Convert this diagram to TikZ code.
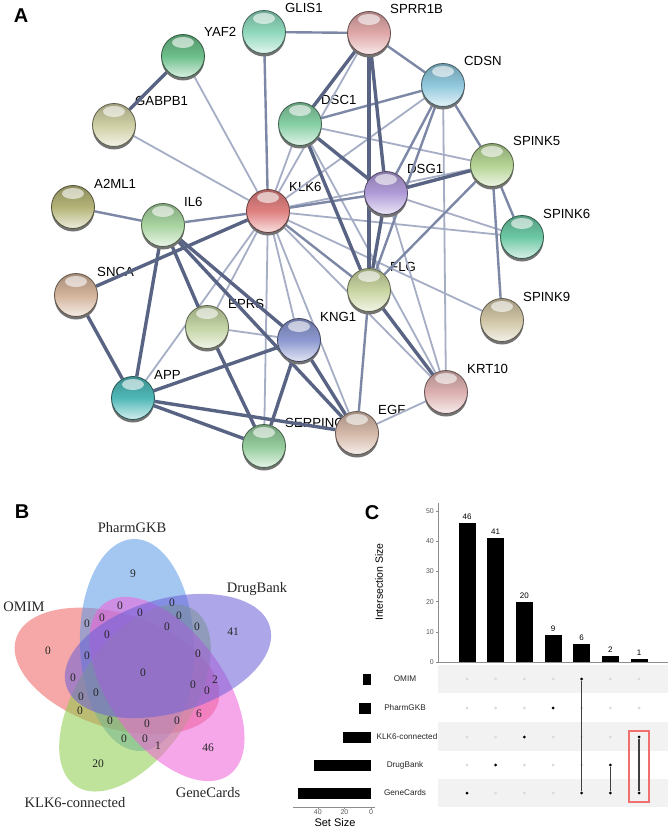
\documentclass[tikz,border=0pt]{standalone}
\usepackage{fontspec}
\setmainfont{Liberation Sans}
\newfontfamily\vennfont{Liberation Serif}
\usetikzlibrary{shadows,backgrounds}

% sphere colours
\definecolor{cYAF}{HTML}{6CBF8A}
\definecolor{cGLIS}{HTML}{8ED8BC}
\definecolor{cSPRR}{HTML}{E0A8A8}
\definecolor{cCDSN}{HTML}{90C8DC}
\definecolor{cGABP}{HTML}{CFCFA4}
\definecolor{cDSC}{HTML}{86CFA4}
\definecolor{cSPKfive}{HTML}{B4D494}
\definecolor{cAML}{HTML}{B4B478}
\definecolor{cIL}{HTML}{A8D4A0}
\definecolor{cKLK}{HTML}{E08080}
\definecolor{cDSG}{HTML}{B09CD8}
\definecolor{cSPKsix}{HTML}{6CC8A4}
\definecolor{cSNCA}{HTML}{D4B49C}
\definecolor{cEPRS}{HTML}{C4D4A4}
\definecolor{cKNG}{HTML}{8C98D0}
\definecolor{cFLG}{HTML}{C8D4A0}
\definecolor{cSPKnine}{HTML}{CFC4A4}
\definecolor{cAPP}{HTML}{50B8B8}
\definecolor{cSERP}{HTML}{94CC9C}
\definecolor{cEGF}{HTML}{D4B8A8}
\definecolor{cKRT}{HTML}{DCB0B0}
% edges
\definecolor{edgeDark}{HTML}{596484}
\definecolor{edgeMid}{HTML}{7D87A6}
\definecolor{edgeLight}{HTML}{A6AEC6}
% venn
\definecolor{vPharm}{HTML}{5A9AE8}
\definecolor{vDrug}{HTML}{6A60D8}
\definecolor{vOmim}{HTML}{F06060}
\definecolor{vKlk}{HTML}{8CCC48}
\definecolor{vGene}{HTML}{F060D8}
% upset
\definecolor{bandGray}{HTML}{F2F2F2}
\definecolor{boxRed}{HTML}{F07070}

\tikzset{
  gene/.style={circle, minimum size=43pt, inner sep=0pt, line width=0.8pt,
    draw=#1!45!black, top color=#1!78!black, bottom color=#1!25!white, middle color=#1,
    general shadow={fill=black!55, shadow yshift=-3pt},
    path picture={\fill[white, fill opacity=0.6]
      ([yshift=-8pt]path picture bounding box.north) ellipse [x radius=11pt, y radius=5.5pt];}},
  genelbl/.style={anchor=base west, inner sep=0pt, xshift=21pt, yshift=19pt,
    font=\fontsize{13.2}{15}\selectfont},
  strong/.style={draw=edgeDark, line width=3.4pt},
  medium/.style={draw=edgeMid, line width=2.4pt},
  weak/.style={draw=edgeLight, line width=1.8pt},
  panel/.style={font=\fontsize{20}{22}\selectfont\bfseries, inner sep=0pt},
  vset/.style={font=\vennfont\fontsize{14.5}{16}\selectfont, text=black!85, inner sep=0pt},
  vnum/.style={font=\vennfont\fontsize{11.5}{13}\selectfont, text=black!85, inner sep=0pt},
  tick/.style={font=\fontsize{7}{8}\selectfont, text=black!65, inner sep=0pt},
  barval/.style={font=\fontsize{8}{9}\selectfont, inner sep=0pt},
  rowlbl/.style={font=\fontsize{8.2}{9}\selectfont, text=black!85, inner sep=0pt},
  axtitle/.style={font=\fontsize{10.5}{12}\selectfont, inner sep=0pt},
  axis/.style={draw=black!45, line width=0.6pt},
  dot/.style={circle, fill=#1, inner sep=0pt, minimum size=3pt},
  mline/.style={draw=black!75, line width=1.3pt}
}

\begin{document}
\begin{tikzpicture}[x=1pt,y=-1pt]
  \useasboundingbox (0,0) rectangle (671,829);

  % ---- A: network
  \node[panel] (pA) at (21,16) {A};

  \node[gene=cYAF] (yaf2) at (183,56) {};
  \node[gene=cGLIS] (glis1) at (264,32) {};
  \node[gene=cSPRR] (sprr1b) at (369,33) {};
  \node[gene=cCDSN] (cdsn) at (443,85) {};
  \node[gene=cGABP] (gabpb1) at (114,125) {};
  \node[gene=cDSC] (dsc1) at (300,124) {};
  \node[gene=cSPKfive] (spink5) at (492,165) {};
  \node[gene=cAML] (a2ml1) at (73,207) {};
  \node[gene=cIL] (il6) at (163,225) {};
  \node[gene=cKLK] (klk6) at (268,211) {};
  \node[gene=cDSG] (dsg1) at (386,193) {};
  \node[gene=cSPKsix] (spink6) at (522,237) {};
  \node[gene=cSNCA] (snca) at (76,295) {};
  \node[gene=cEPRS] (eprs) at (207,327) {};
  \node[gene=cKNG] (kng1) at (299,340) {};
  \node[gene=cFLG] (flg) at (369,290) {};
  \node[gene=cSPKnine] (spink9) at (502,320) {};
  \node[gene=cAPP] (app) at (133,398) {};
  \node[gene=cSERP] (serpinc1) at (264,446) {};
  \node[gene=cEGF] (egf) at (357,433) {};
  \node[gene=cKRT] (krt10) at (446,392) {};

  \begin{pgfonlayer}{background}
    \fill[white] (0,0) rectangle (671,829);

    \node[genelbl] (lyaf2) at (yaf2) {YAF2};
    \node[genelbl] (lglis1) at (glis1) {GLIS1};
    \node[genelbl] (lsprr1b) at (sprr1b) {SPRR1B};
    \node[genelbl] (lcdsn) at (cdsn) {CDSN};
    \node[genelbl] (lgabpb1) at (gabpb1) {GABPB1};
    \node[genelbl] (ldsc1) at (dsc1) {DSC1};
    \node[genelbl] (lspink5) at (spink5) {SPINK5};
    \node[genelbl] (la2ml1) at (a2ml1) {A2ML1};
    \node[genelbl] (lil6) at (il6) {IL6};
    \node[genelbl] (lklk6) at (klk6) {KLK6};
    \node[genelbl] (ldsg1) at (dsg1) {DSG1};
    \node[genelbl] (lspink6) at (spink6) {SPINK6};
    \node[genelbl] (lsnca) at (snca) {SNCA};
    \node[genelbl] (leprs) at (eprs) {EPRS};
    \node[genelbl] (lkng1) at (kng1) {KNG1};
    \node[genelbl] (lflg) at (flg) {FLG};
    \node[genelbl] (lspink9) at (spink9) {SPINK9};
    \node[genelbl] (lapp) at (app) {APP};
    \node[genelbl] (lserpinc1) at (serpinc1) {SERPINC1};
    \node[genelbl] (legf) at (egf) {EGF};
    \node[genelbl] (lkrt10) at (krt10) {KRT10};

    \path[weak]
    (klk6) edge (yaf2)
    (klk6) edge (gabpb1)
    (klk6) edge (sprr1b)
    (klk6) edge (cdsn)
    (klk6) edge (dsc1)
    (klk6) edge (spink5)
    (klk6) edge (spink6)
    (klk6) edge (spink9)
    (klk6) edge (krt10)
    (klk6) edge (egf)
    (klk6) edge (serpinc1)
    (klk6) edge (kng1)
    (klk6) edge (eprs)
    (klk6) edge (app)
    (cdsn) edge (krt10)
    (dsc1) edge (spink5)
    (dsc1) edge (krt10)
    (dsg1) edge (spink6)
    (dsg1) edge (krt10)
    (eprs) edge (kng1)
    (krt10) edge (egf)
    ;
    \path[medium]
    (glis1) edge (klk6)
    (glis1) edge (sprr1b)
    (a2ml1) edge (il6)
    (il6) edge (klk6)
    (klk6) edge (dsg1)
    (klk6) edge (flg)
    (sprr1b) edge (cdsn)
    (cdsn) edge (spink5)
    (cdsn) edge (dsc1)
    (cdsn) edge (dsg1)
    (cdsn) edge (flg)
    (spink5) edge (spink6)
    (spink5) edge (spink9)
    (spink5) edge (flg)
    (flg) edge (egf)
    ;
    \path[strong]
    (yaf2) edge (gabpb1)
    (snca) edge (klk6)
    (snca) edge (app)
    (il6) edge (app)
    (il6) edge (eprs)
    (il6) edge (kng1)
    (il6) edge (egf)
    (app) edge (kng1)
    (app) edge (serpinc1)
    (app) edge (egf)
    (eprs) edge (serpinc1)
    (kng1) edge (serpinc1)
    (kng1) edge (egf)
    (dsc1) edge (dsg1)
    (dsc1) edge (flg)
    (dsc1) edge (sprr1b)
    (sprr1b) edge (dsg1)
    (sprr1b) edge (flg)
    (dsg1) edge (flg)
    (dsg1) edge (spink5)
    (flg) edge (krt10)
    ;
  \end{pgfonlayer}

  % ---- B: venn
  \node[panel] (pB) at (22,512) {B};
  \begin{scope}[fill opacity=0.55]
    \fill[vOmim, rotate around={-18:(117,671)}] (117,671) ellipse [x radius=106, y radius=57];
    \fill[vPharm, rotate around={92:(137,645)}] (137,645) ellipse [x radius=106, y radius=57];
    \fill[vKlk, rotate around={56:(135,698)}] (135,698) ellipse [x radius=106, y radius=57];
    \fill[vGene, rotate around={-54:(167,689)}] (167,689) ellipse [x radius=106, y radius=57];
    \fill[vDrug, rotate around={16:(168,656)}] (168,656) ellipse [x radius=106, y radius=57];
  \end{scope}

  \node[vset] (sPharm) at (132,528) {PharmGKB};
  \node[vset] (sDrug) at (257,589) {DrugBank};
  \node[vset] (sOmim) at (24,607) {OMIM};
  \node[vset] (sKlk) at (75,803) {KLK6-connected};
  \node[vset] (sGene) at (208,793) {GeneCards};

  \node[vnum] (nPharm) at (133,574) {9};
  \node[vnum] (nDrug) at (233,632) {41};
  \node[vnum] (nKlk) at (98,764) {20};
  \node[vnum] (nGene) at (208,748) {46};
  \node[vnum] (nDG) at (215,680) {2};
  \node[vnum] (nOG) at (199,714) {6};
  \node[vnum] (nKG) at (158,746) {1};
  \foreach \x/\y [count=\i] in {120/606, 172/603, 102/618, 87/624, 140/613, 179/616,
      197/627, 167/627, 107/635, 87/656, 198/654, 73/678, 81/697, 96/693, 193/685,
      207/691, 80/711, 110/721, 147/724, 177/721, 124/739, 145/739, 48/651, 143/673}
    \node[vnum] (zero\i) at (\x,\y) {0};

  % ---- C: upset
  \node[panel] (pC) at (372,513) {C};
  \node[axtitle, rotate=90] (tInt) at (379,582) {Intersection Size};

  \draw[axis] (438,503) -- (438,662) -- (668,662);
  \foreach \t in {0,10,...,50} {
    \draw[axis] (438,{662-3.02*\t}) -- ++(-2.5,0);
    \node[tick, anchor=east] (yt\t) at (434,{662-3.02*\t}) {\t};
  }
  \foreach \v [count=\i] in {46,41,20,9,6,2,1} {
    \fill ({458.5+28.67*(\i-1)},662) rectangle ++(17,{-3.02*\v});
    \node[barval, anchor=south] (bv\i) at ({467+28.67*(\i-1)},{659-3.02*\v}) {\v};
  }

  % matrix
  \fill[bandGray] (438,665) rectangle (668,693);
  \fill[bandGray] (438,722) rectangle (668,751);
  \fill[bandGray] (438,779) rectangle (668,807);
  \foreach \r/\y in {1/679,2/708,3/737,4/765,5/793}
    \foreach \c in {1,...,7}
      \node[dot=black!15] (m\c\r) at ({467+28.67*(\c-1)},\y) {};
  \foreach \c/\r/\y in {1/5/793,2/4/765,3/3/737,4/2/708,5/1/679,5/5/793,6/4/765,6/5/793,7/3/737,7/5/793}
    \node[dot=black] (a\c\r) at ({467+28.67*(\c-1)},\y) {};
  \draw[mline] (a51) -- (a55);
  \draw[mline] (a64) -- (a65);
  \draw[mline] (a73) -- (a75);
  \draw[boxRed, line width=1.1pt] (629,731) rectangle (649,802);

  \node[rowlbl] (rOmim) at (405,679) {OMIM};
  \node[rowlbl] (rPharm) at (405,708) {PharmGKB};
  \node[rowlbl] (rKlk) at (407,737) {KLK6-connected};
  \node[rowlbl] (rDrug) at (405,765) {DrugBank};
  \node[rowlbl] (rGene) at (405,793) {GeneCards};

  % set sizes
  \foreach \s/\y in {6/679,9/708,21/737,43/765,55/793}
    \fill (371,{\y-5.5}) rectangle ++({-1.33*\s},11);
  \draw[axis] (293,807) -- (375,807);
  \foreach \t in {0,20,40} {
    \draw[axis] ({371-1.33*\t},807) -- ++(0,2);
    \node[tick, anchor=north] (st\t) at ({371-1.33*\t},809) {\t};
  }
  \node[axtitle, font=\fontsize{11}{12}\selectfont] (tSet) at (335,823) {Set Size};
\end{tikzpicture}
\end{document}
